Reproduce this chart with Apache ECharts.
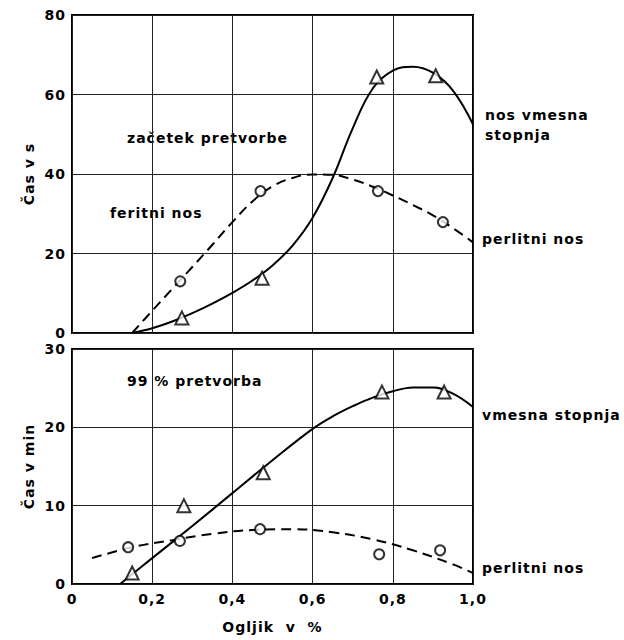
<!DOCTYPE html>
<html><head><meta charset="utf-8">
<script src="https://cdn.jsdelivr.net/npm/echarts@6/dist/echarts.min.js"></script>
<style>html,body{margin:0;padding:0;background:#fff}#c{width:624px;height:640px}#c text{letter-spacing:1px}</style>
</head><body><div id="c"></div>
<script>
// X axis (carbon %), shared
const xMin = 0, xMax = 1.0, xStep = 0.2;
// Top panel: start of transformation (s)
const topYMin = 0, topYMax = 80, topYStep = 20;
const topCircles   = [[0.27, 13], [0.47, 35.7], [0.763, 35.7], [0.925, 27.9]];
const topTriangles = [[0.274, 3.8], [0.474, 13.8], [0.76, 64.4], [0.907, 64.7]];
const topDashed = [[0.15, 0], [0.2, 5.6], [0.25, 11.1], [0.3, 16.6], [0.35, 22.2], [0.4, 27.9], [0.45, 33.1], [0.5, 36.9], [0.55, 39.0], [0.6, 39.9], [0.65, 39.8], [0.7, 38.6], [0.75, 36.8], [0.8, 34.6], [0.85, 32.2], [0.9, 29.6], [0.95, 26.4], [1.0, 22.8]];
const topSolid  = [[0.15, 0], [0.2, 1.2], [0.25, 2.9], [0.3, 5.0], [0.35, 7.4], [0.4, 10.1], [0.45, 13.2], [0.5, 17.0], [0.55, 22.0], [0.6, 29.0], [0.65, 39.0], [0.7, 51.5], [0.75, 61.5], [0.8, 66.0], [0.85, 67.0], [0.9, 65.5], [0.95, 61.0], [1.0, 52.5]];
// Bottom panel: 99 % transformation (min)
const botYMin = 0, botYMax = 30, botYStep = 10;
const botCircles   = [[0.14, 4.7], [0.269, 5.5], [0.469, 7.0], [0.766, 3.8], [0.918, 4.3]];
const botTriangles = [[0.15, 1.4], [0.279, 10.0], [0.477, 14.2], [0.773, 24.5], [0.928, 24.5]];
const botDashed = [[0.05, 3.3], [0.15, 4.7], [0.25, 5.6], [0.35, 6.4], [0.45, 6.9], [0.55, 7.0], [0.65, 6.6], [0.75, 5.7], [0.85, 4.3], [0.95, 2.5], [1.0, 1.4]];
const botSolid  = [[0.12, 0], [0.2, 3.3], [0.3, 7.4], [0.4, 11.6], [0.5, 15.8], [0.6, 19.8], [0.65, 21.4], [0.7, 22.7], [0.75, 23.8], [0.8, 24.6], [0.85, 25.1], [0.9, 25.1], [0.95, 24.3], [1.0, 22.6]];

const FONT = 'DejaVu Sans';
const chart = echarts.init(document.getElementById('c'), null, {renderer: 'svg'});
const fmtX = v => v === 0 ? '0' : v.toFixed(1).replace('.', ',');
const axisLbl = {color: '#000', fontFamily: FONT, fontSize: 14, fontWeight: 'bold'};
const split = {show: true, lineStyle: {color: '#222', width: 1}};
function xAxis(gi, showLabel) {
  return {type: 'value', gridIndex: gi, min: xMin, max: xMax, interval: xStep,
    axisLine: {show: false}, axisTick: {show: false}, splitLine: split,
    axisLabel: Object.assign({show: showLabel, formatter: fmtX, margin: 8}, axisLbl),
    name: showLabel ? 'Ogljik  v  %' : '', nameLocation: 'middle', nameGap: 36,
    nameTextStyle: {color: '#000', fontFamily: FONT, fontSize: 14, fontWeight: 'bold'}};
}
function yAxis(gi, mn, mx, st, name) {
  return {type: 'value', gridIndex: gi, min: mn, max: mx, interval: st,
    axisLine: {show: false}, axisTick: {show: false}, splitLine: split,
    axisLabel: Object.assign({margin: 6}, axisLbl),
    name: name, nameLocation: 'middle', nameGap: 36, nameRotate: 90,
    nameTextStyle: {color: '#000', fontFamily: FONT, fontSize: 14, fontWeight: 'bold'}};
}
const lineS = (xi, data, dashed) => ({type: 'line', xAxisIndex: xi, yAxisIndex: xi, data, smooth: 0.4,
  showSymbol: false, silent: true, lineStyle: {color: '#000', width: 2, type: dashed ? [10, 6] : 'solid'}, z: 3});
const mark = (xi, data, sym, size) => ({type: 'scatter', xAxisIndex: xi, yAxisIndex: xi, data, symbol: sym, symbolSize: size,
  itemStyle: {color: '#fff', borderColor: '#000', borderWidth: 2}, z: 5});
const txt = (x, y, t) => ({type: 'text', left: x, top: y, style: {text: t, font: 'bold 14px ' + FONT, fill: '#000'}});

chart.setOption({
  backgroundColor: '#fff',
  animation: false,
  grid: [
    {left: 72, width: 401, top: 15, height: 318, show: true, borderColor: '#000', borderWidth: 2, backgroundColor: 'transparent'},
    {left: 72, width: 401, top: 349, height: 235, show: true, borderColor: '#000', borderWidth: 2, backgroundColor: 'transparent'}
  ],
  xAxis: [xAxis(0, false), xAxis(1, true)],
  yAxis: [yAxis(0, topYMin, topYMax, topYStep, 'Čas v s'), yAxis(1, botYMin, botYMax, botYStep, 'Čas v min')],
  series: [
    lineS(0, topDashed, true), lineS(0, topSolid, false),
    mark(0, topCircles, 'circle', 10), mark(0, topTriangles, 'triangle', 13),
    lineS(1, botDashed, true), lineS(1, botSolid, false),
    mark(1, botCircles, 'circle', 10), mark(1, botTriangles, 'triangle', 13)
  ],
  graphic: [
    txt(127, 131, 'začetek pretvorbe'),
    txt(110, 206, 'feritni nos'),
    txt(485, 108, 'nos vmesna'),
    txt(485, 128, 'stopnja'),
    txt(482, 232, 'perlitni nos'),
    txt(127, 374, '99 % pretvorba'),
    txt(482, 408, 'vmesna stopnja'),
    txt(482, 561, 'perlitni nos')
  ]
});
</script></body></html>
